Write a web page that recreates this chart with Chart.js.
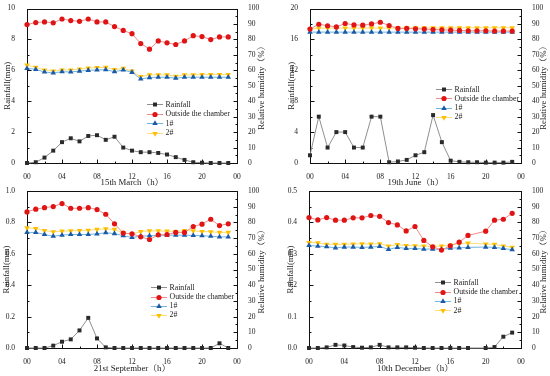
<!DOCTYPE html>
<html><head><meta charset="utf-8">
<script src="https://cdn.jsdelivr.net/npm/chart.js@4/dist/chart.umd.min.js"></script>
<style>
html,body{margin:0;padding:0;background:#fff;}
#wrap{position:relative;width:550px;height:376px;overflow:hidden;background:#fff;}
canvas{position:absolute;}
</style></head><body>
<div id="wrap">
<canvas id="c1" width="275" height="188" style="left:0;top:0"></canvas>
<canvas id="c2" width="275" height="188" style="left:275px;top:0"></canvas>
<canvas id="c3" width="275" height="194" style="left:0;top:182px"></canvas>
<canvas id="c4" width="275" height="194" style="left:275px;top:182px"></canvas>
</div>
<script>
// ---------- data ----------
const hours = [0,1,2,3,4,5,6,7,8,9,10,11,12,13,14,15,16,17,18,19,20,21,22,23];
const xTickLabels = ['00','04','08','12','16','20','00'];
const rhTickLabels = ['0','10','20','30','40','50','60','70','80','90','100'];
const seriesNames = ['Rainfall','Outside the chamber','1#','2#'];

// 15th March
const rainTicksMar = ['0','2','4','6','8','10'];
const rainMar = [0,0.05,0.35,0.8,1.35,1.6,1.4,1.75,1.8,1.5,1.7,1.0,0.8,0.7,0.7,0.65,0.55,0.38,0.2,0.05,0.02,0,0,0];
const outMar  = [89.6,90.9,91.3,90.7,93.2,92.2,91.7,93.2,91.3,91.3,88.3,85.8,83.7,77.3,73.7,79,77.8,76.7,79,82.4,81.8,79.9,81.6,81.6];
const c1Mar   = [61.2,60.6,58.9,58.3,59.1,58.9,59.5,60,60.2,60.4,59.1,60.2,58.7,54.4,55.3,55.5,55.5,54.9,55.5,55.5,55.5,55.5,55.5,55.5];
const c2Mar   = [63.3,61.9,60.2,59.5,60.2,60.2,60.8,61.4,61.7,61.9,60.4,61.2,59.5,55.9,57,57,57,56.1,57,57,57.2,57.2,57.2,57.2];

// 19th June
const rainTicksJun = ['0','4','8','12','16','20'];
const rainJun = [1.0,6,2,4,4,2,2,6,6,0.1,0.2,0.4,1.0,1.4,6.2,2.7,0.3,0.15,0.1,0.1,0.05,0.05,0.05,0.15];
const outJun  = [86.7,89.8,88.8,88.1,90.3,89.4,89.2,90,91.1,89,87.1,87.1,86.9,86.7,86.4,86.2,86,85.8,85.6,85.6,85.6,85.4,85.4,85.4];
const c1Jun   = [84.7,84.7,84.7,84.7,84.7,84.7,84.7,84.7,84.7,84.7,84.7,84.7,84.7,84.7,84.7,84.7,84.7,84.7,84.7,84.7,84.7,84.7,84.7,84.7];
const c2Jun   = [86.5,87.3,87.3,87.3,87.3,87.3,87.3,87.3,87.3,87.3,87.4,87.4,87.4,87.4,87.4,87.4,87.4,87.5,87.5,87.5,87.5,87.5,87.5,87.5];

// 21st September
const rainTicksSep = ['0.0','0.2','0.4','0.6','0.8','1.0'];
const rainSep = [0,0,0,0.015,0.04,0.055,0.112,0.192,0.061,0.004,0,0,0,0,0,0,0,0,0,0,0,0,0.03,0];
const outSep  = [86.7,88.4,89.4,90.1,92,89,89,89.4,88.2,85.2,79.1,73.2,72.7,70.8,69.1,72.1,72.3,73.6,73.6,77.4,78.9,82,78,79.1];
const c1Sep   = [73.6,73.6,72.3,71.2,71.9,72.3,72.3,72.3,72.7,73.4,72.9,71.5,70.4,71.2,71.5,71.7,71.9,71.9,71.9,71.7,71.5,71.2,70.8,70.8];
const c2Sep   = [76.5,76.1,74.8,74,74.4,74.6,74.8,75,75.5,75.9,75.5,73.4,72.5,74.2,74.6,74.6,74.4,74.2,74.8,74.6,74.2,74,73.6,73.6];

// 10th December (no reading at 19 h)
const rainTicksDec = ['0.0','0.1','0.2','0.3','0.4','0.5'];
const rainDec = [0,0,0.002,0.01,0.008,0.003,0.001,0.002,0.01,0.002,0.002,0.002,0.001,0,0,0,0,0,0,null,0,0.003,0.036,0.049];
const outDec  = [83.1,81.6,83.1,81.4,81.4,82.9,82.9,84.4,83.9,79.9,78.4,74.6,77.4,68.5,64.5,62.4,65.1,67.4,71.7,null,74.4,81.4,82,85.8];
const c1Dec   = [65.3,64.9,64.5,63.8,64.3,64.3,64.1,64.3,64.7,62.8,64.1,63.4,63.4,63,63,62.8,63.6,63.8,64.1,null,64.3,64.1,63.4,62.6];
const c2Dec   = [67.2,67,66,66,66,66.2,66.4,66.2,66.4,64.9,65.8,65.3,65.1,64.9,64.7,64.9,65.5,66.6,66.8,null,66.2,66,64.9,64.1];

// ---------- styles ----------
const FONT = "'Liberation Serif','Noto Serif CJK SC','Noto Sans CJK SC',serif";
const TXT = '#222';
const styles = [
  {line:'#8f8f8f', mark:'#2a2a2a', shape:'rect', r:2.8, rot:0},
  {line:'#f08a8a', mark:'#e01414', shape:'circle', r:2.6, rot:0},
  {line:'#72b4e2', mark:'#1b5aa6', shape:'triangle', r:3.2, rot:0},
  {line:'#ffdd77', mark:'#ffbf00', shape:'triangle', r:3.2, rot:180}
];

function drawMarker(ctx, st, x, y) {
  ctx.save();
  ctx.fillStyle = st.mark;
  ctx.beginPath();
  if (st.shape === 'rect') {
    const s = st.r * Math.SQRT1_2;
    ctx.rect(x - s, y - s, 2 * s, 2 * s);
  } else if (st.shape === 'circle') {
    ctx.arc(x, y, st.r, 0, Math.PI * 2);
  } else {
    const d = st.rot ? -1 : 1;
    const r = st.r;
    ctx.moveTo(x, y - d * r);
    ctx.lineTo(x - r * 0.866, y + d * r * 0.5);
    ctx.lineTo(x + r * 0.866, y + d * r * 0.5);
    ctx.closePath();
  }
  ctx.fill();
  ctx.restore();
}

function makeChart(id, p) {
  const series = [p.rain, p.out, p.n1, p.n2];
  const datasets = series.map((arr, k) => ({
    label: seriesNames[k],
    data: hours.map((h, i) => ({x: h, y: arr[i]})),
    yAxisID: k === 0 ? 'yL' : 'yR',
    borderColor: styles[k].line,
    borderWidth: 1,
    backgroundColor: styles[k].mark,
    pointBackgroundColor: styles[k].mark,
    pointBorderColor: styles[k].mark,
    pointBorderWidth: 0,
    pointStyle: styles[k].shape,
    pointRotation: styles[k].rot,
    pointRadius: styles[k].r,
    tension: 0,
    spanGaps: true,
    clip: false
  }));

  const deco = {
    id: 'deco',
    beforeDatasetsDraw(chart) {
      const ctx = chart.ctx, a = chart.chartArea;
      const L = Math.round(a.left) + 0.5, R = Math.round(a.right) + 0.5;
      const T = Math.round(a.top) + 0.5, B = Math.round(a.bottom) + 0.5;
      ctx.save();
      ctx.strokeStyle = '#111';
      ctx.lineWidth = 1;
      ctx.strokeRect(L, T, R - L, B - T);
      ctx.beginPath();
      const yL = chart.scales.yL, yR = chart.scales.yR, x = chart.scales.x;
      const stepL = p.rainMax / (p.rainTicks.length - 1);
      for (let i = 0; i < p.rainTicks.length * 2 - 1; i++) {
        const v = i * stepL / 2;
        const py = Math.round(yL.getPixelForValue(v)) + 0.5;
        const len = i % 2 === 0 ? 4 : 2;
        ctx.moveTo(L, py); ctx.lineTo(L + len, py);
      }
      for (let i = 0; i <= 20; i++) {
        const py = Math.round(yR.getPixelForValue(i * 5)) + 0.5;
        const len = i % 2 === 0 ? 4 : 2;
        ctx.moveTo(R, py); ctx.lineTo(R - len, py);
      }
      for (let i = 0; i <= 12; i++) {
        const px = Math.round(x.getPixelForValue(i * 2)) + 0.5;
        const len = i % 2 === 0 ? 4 : 2;
        ctx.moveTo(px, B); ctx.lineTo(px, B - len);
      }
      ctx.stroke();
      ctx.restore();
    },
    afterDraw(chart) {
      const ctx = chart.ctx, a = chart.chartArea;
      ctx.save();
      ctx.fillStyle = TXT;
      ctx.font = '8.8px ' + FONT;
      ctx.textAlign = 'center';
      ctx.textBaseline = 'middle';
      const midY = (a.top + a.bottom) / 2;
      ctx.save(); ctx.translate(p.lt, midY); ctx.rotate(-Math.PI / 2);
      ctx.fillText('Rainfall(mm)', 0, 0); ctx.restore();
      ctx.save(); ctx.translate(p.rt, midY); ctx.rotate(-Math.PI / 2);
      ctx.fillText('Relative humidity（%）', 0, 0); ctx.restore();
      ctx.fillText(p.xTitle, (a.left + a.right) / 2, p.xt);
      // legend
      ctx.font = '7.8px ' + FONT;
      ctx.textAlign = 'left';
      seriesNames.forEach((name, k) => {
        const y = p.lg.y + k * p.lg.dy;
        ctx.strokeStyle = styles[k].line;
        ctx.lineWidth = 1;
        ctx.beginPath();
        ctx.moveTo(p.lg.x, Math.round(y) + 0.5); ctx.lineTo(p.lg.x + 16, Math.round(y) + 0.5);
        ctx.stroke();
        drawMarker(ctx, styles[k], p.lg.x + 8, Math.round(y) + 0.5);
        ctx.fillStyle = TXT;
        ctx.fillText(name, p.lg.x + 18.5, y + 0.5);
      });
      ctx.restore();
    }
  };

  const tickFont = {family: FONT, size: 7.5};
  return new Chart(document.getElementById(id), {
    type: 'line',
    data: {datasets},
    options: {
      responsive: false,
      animation: false,
      devicePixelRatio: 1,
      layout: {padding: {top: p.T, left: 0, right: 0, bottom: 0}},
      plugins: {legend: {display: false}, tooltip: {enabled: false}},
      scales: {
        x: {
          type: 'linear', position: 'bottom', min: 0, max: 24,
          afterFit: s => { s.height = p.H; },
          grid: {display: false}, border: {display: false},
          ticks: {stepSize: 4, padding: 2, font: tickFont, color: TXT, maxRotation: 0, autoSkip: false,
                  callback: v => xTickLabels[Math.round(v / 4)]}
        },
        yL: {
          type: 'linear', position: 'left', min: 0, max: p.rainMax,
          afterFit: s => { s.width = p.L; },
          grid: {display: false}, border: {display: false},
          ticks: {stepSize: p.rainMax / (p.rainTicks.length - 1), padding: 4, font: tickFont, color: TXT,
                  callback: (v, i) => p.rainTicks[i]}
        },
        yR: {
          type: 'linear', position: 'right', min: 0, max: 100,
          afterFit: s => { s.width = p.R; },
          grid: {display: false}, border: {display: false},
          ticks: {stepSize: 10, padding: 3, font: tickFont, color: TXT,
                  callback: (v, i) => rhTickLabels[i]}
        }
      }
    },
    plugins: [deco]
  });
}

makeChart('c1', {rain: rainMar, out: outMar, n1: c1Mar, n2: c2Mar, rainMax: 10, rainTicks: rainTicksMar,
  xTitle: '15th March（h）', L: 27, R: 38, T: 6, H: 25, lt: 8, rt: 262, xt: 183,
  lg: {x: 147, y: 104, dy: 9.5}});
makeChart('c2', {rain: rainJun, out: outJun, n1: c1Jun, n2: c2Jun, rainMax: 20, rainTicks: rainTicksJun,
  xTitle: '19th June（h）', L: 35, R: 29, T: 6, H: 25, lt: 17, rt: 268.5, xt: 183,
  lg: {x: 161, y: 89.3, dy: 9.1}});
makeChart('c3', {rain: rainSep, out: outSep, n1: c1Sep, n2: c2Sep, rainMax: 1.0, rainTicks: rainTicksSep,
  xTitle: '21st September（h）', L: 27, R: 38, T: 9, H: 28, lt: 7, rt: 262, xt: 186.3,
  lg: {x: 151, y: 105.3, dy: 9.2}});
makeChart('c4', {rain: rainDec, out: outDec, n1: c1Dec, n2: c2Dec, rainMax: 0.5, rainTicks: rainTicksDec,
  xTitle: '10th December（h）', L: 34, R: 29, T: 9, H: 28, lt: 16, rt: 268.5, xt: 186.3,
  lg: {x: 160, y: 100.3, dy: 9.3}});
</script>
</body></html>
